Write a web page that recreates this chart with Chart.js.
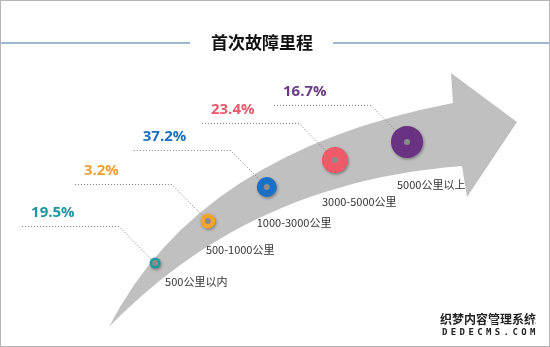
<!DOCTYPE html>
<html>
<head>
<meta charset="utf-8">
<script src="https://cdn.jsdelivr.net/npm/chart.js@4.4.1/dist/chart.umd.min.js"></script>
<style>
  html, body { margin: 0; padding: 0; background: #fff; }
  #wrap { width: 550px; height: 347px; }
</style>
</head>
<body>
<div id="wrap"><canvas id="chart" width="550" height="347"></canvas></div>
<script>
const title = '首次故障里程';
const categories = ['500公里以内', '500-1000公里', '1000-3000公里', '3000-5000公里', '5000公里以上'];
const shares = [19.5, 3.2, 37.2, 23.4, 16.7];
// where each stage sits along the arrow (0-100 units on both hidden axes)
const trackX = [28.2, 37.8, 48.5, 60.9, 74.0];
const trackY = [24.2, 36.3, 46.1, 53.9, 59.1];

const colors = ['#1b98a0', '#f4a42c', '#1a70c5', '#ee5a68', '#6a3282'];
const textColors = ['#1b97a0', '#f0a030', '#1b6ec2', '#e8596b', '#6b3b87'];
const ringSize = [5.5, 7.5, 10, 13, 16];
const labelDx = [10, -2, -10, -13, -10];
const labelDy = [19, 29, 36, 42, 43];

const CJK = '"Noto Sans CJK SC", "Noto Sans", sans-serif';

const points = trackX.map((x, i) => ({ x: x, y: trackY[i] }));

const infoPlugin = {
  id: 'info',
  beforeDatasetsDraw(chart) {
    const ctx = chart.ctx;
    const sx = v => chart.scales.x.getPixelForValue(v);
    const sy = v => chart.scales.y.getPixelForValue(v);

    // the big grey arrow
    ctx.save();
    ctx.fillStyle = '#c0c0c0';
    ctx.beginPath();
    ctx.moveTo(sx(19.82), sy(5.76));
    ctx.quadraticCurveTo(sx(36.0), sy(56.2), sx(82.36), sy(70.32));
    ctx.lineTo(sx(82.0), sy(78.96));
    ctx.lineTo(sx(94.0), sy(64.84));
    ctx.lineTo(sx(84.91), sy(43.23));
    ctx.lineTo(sx(84.0), sy(52.16));
    ctx.bezierCurveTo(sx(50.91), sy(48.13), sx(31.82), sy(25.07), sx(19.82), sy(5.76));
    ctx.closePath();
    ctx.fill();
    ctx.restore();

    // dotted leaders, percentages and stage names
    const meta = chart.getDatasetMeta(0);
    ctx.save();
    meta.data.forEach((p, i) => {
      const kx = p.x - 36, ky = p.y - 37;
      const startX = kx - 97;
      ctx.strokeStyle = '#7a7a7a';
      ctx.lineWidth = 1;
      ctx.setLineDash([1, 2]);
      ctx.beginPath();
      ctx.moveTo(startX, ky + 0.5);
      ctx.lineTo(kx, ky + 0.5);
      ctx.lineTo(p.x, p.y);
      ctx.stroke();

      ctx.setLineDash([]);
      ctx.fillStyle = textColors[i];
      ctx.font = 'bold 15px "Open Sans", sans-serif';
      ctx.textAlign = 'left';
      ctx.textBaseline = 'middle';
      ctx.fillText(shares[i].toFixed(1) + '%', startX + 9, ky - 13);

      ctx.fillStyle = '#333';
      ctx.font = '11px ' + CJK;
      ctx.fillText(categories[i], p.x + labelDx[i], p.y + labelDy[i]);
    });
    ctx.restore();
  },
  beforeDatasetDraw(chart, args) {
    if (args.index === 0) {
      const ctx = chart.ctx;
      ctx.save();
      ctx.shadowColor = 'rgba(0,0,0,0.35)';
      ctx.shadowBlur = 3;
      ctx.shadowOffsetX = 1;
      ctx.shadowOffsetY = 1.5;
    }
  },
  afterDatasetDraw(chart, args) {
    if (args.index === 0) chart.ctx.restore();
  },
  afterDraw(chart) {
    const ctx = chart.ctx;
    const w = chart.width, h = chart.height;
    ctx.save();

    // title with rules on both sides
    ctx.strokeStyle = '#7ba2c6';
    ctx.lineWidth = 1.5;
    ctx.beginPath();
    ctx.moveTo(0, 43); ctx.lineTo(190, 43);
    ctx.moveTo(333, 43); ctx.lineTo(w, 43);
    ctx.stroke();
    ctx.fillStyle = '#111';
    ctx.font = 'bold 17px ' + CJK;
    ctx.textAlign = 'center';
    ctx.textBaseline = 'middle';
    ctx.fillText(title, 262, 43);

    // watermark
    ctx.textAlign = 'left';
    ctx.font = 'bold 12px ' + CJK;
    ctx.lineWidth = 3;
    ctx.strokeStyle = '#fff';
    ctx.strokeText('织梦内容管理系统', 440, 319);
    ctx.fillStyle = '#222';
    ctx.fillText('织梦内容管理系统', 440, 319);
    ctx.font = 'bold 9px "DejaVu Sans Mono", monospace';
    const wm = 'DEDECMS.COM';
    for (let i = 0; i < wm.length; i++) {
      ctx.strokeText(wm[i], 442 + i * 8.8, 333);
      ctx.fillText(wm[i], 442 + i * 8.8, 333);
    }

    // frame
    ctx.strokeStyle = '#b5b5b5';
    ctx.lineWidth = 1;
    ctx.strokeRect(0.5, 0.5, w - 1, h - 1);
    ctx.restore();
  }
};

new Chart(document.getElementById('chart'), {
  type: 'scatter',
  data: {
    datasets: [
      {
        data: points,
        order: 1,
        pointRadius: ringSize,
        pointHoverRadius: ringSize,
        pointBackgroundColor: colors,
        pointBorderWidth: 0
      },
      {
        data: points,
        order: 0,
        pointRadius: 3,
        pointHoverRadius: 3,
        pointBackgroundColor: '#8c8c8c',
        pointBorderWidth: 0
      }
    ]
  },
  options: {
    responsive: false,
    animation: false,
    events: [],
    layout: { padding: 0, autoPadding: false },
    plugins: { legend: { display: false }, tooltip: { enabled: false } },
    scales: {
      x: { type: 'linear', min: 0, max: 100, display: false },
      y: { type: 'linear', min: 0, max: 100, display: false }
    }
  },
  plugins: [infoPlugin]
});
</script>
</body>
</html>
